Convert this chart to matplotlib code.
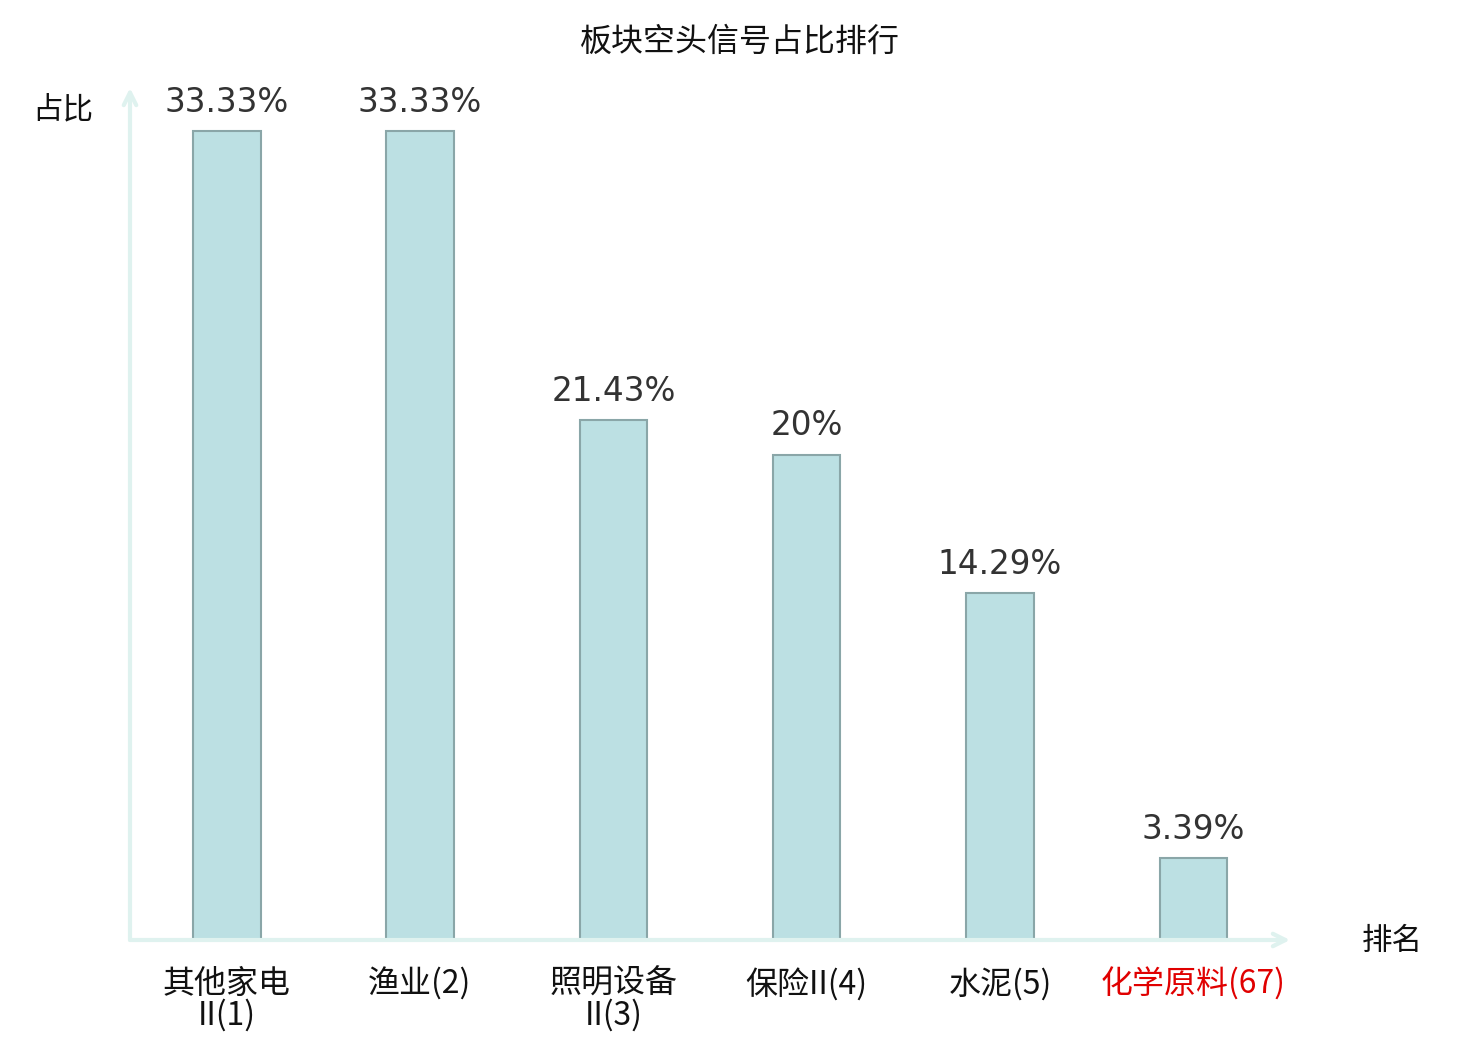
import matplotlib.pyplot as plt

plt.rcParams['font.family'] = ['Noto Sans CJK SC', 'DejaVu Sans']

# data
sectors = ['其他家电\nII(1)', '渔业(2)', '照明设备\nII(3)', '保险II(4)', '水泥(5)', '化学原料(67)']
ratios = [33.33, 33.33, 21.43, 20.0, 14.29, 3.39]
ratio_labels = ['33.33%', '33.33%', '21.43%', '20%', '14.29%', '3.39%']
label_colors = ['#111111'] * 5 + ['#e00000']

fig = plt.figure(figsize=(14.8, 10.4), dpi=100)
# axes spans x 130..1290 px, y 88..940 px
ax = fig.add_axes([130 / 1480, 100 / 1040, 1160 / 1480, 852 / 1040])

x = list(range(len(ratios)))
ax.bar(x, ratios, width=0.35, color='#bce0e3', edgecolor='#8aa6a8', linewidth=1.5, zorder=3)

for i, v in enumerate(ratios):
    ax.text(i, v + 0.5, ratio_labels[i], ha='center', va='bottom',
            fontsize=23.5, color='#333333', family='DejaVu Sans')

ax.set_xlim(-0.5, 5.5)
ax.set_ylim(0, 35.1)

for s in ax.spines.values():
    s.set_visible(False)
ax.set_yticks([])
ax.set_xticks(x)
ax.set_xticklabels(sectors, fontsize=23, linespacing=0.95)
ax.tick_params(axis='x', length=0, pad=20)
for lbl, c in zip(ax.get_xticklabels(), label_colors):
    lbl.set_color(c)
    lbl.set_verticalalignment('top')

axis_color = '#dff2ef'
ax.annotate('', xy=(1.0, 0), xytext=(0, 0), xycoords='axes fraction',
            arrowprops=dict(arrowstyle='->,head_length=0.9,head_width=0.45',
                            color=axis_color, lw=3, shrinkA=0, shrinkB=0))
ax.annotate('', xy=(0, 1.0), xytext=(0, 0), xycoords='axes fraction',
            arrowprops=dict(arrowstyle='->,head_length=0.9,head_width=0.45',
                            color=axis_color, lw=3, shrinkA=0, shrinkB=0))

fig.text(740 / 1480, 1 - 42 / 1040, '板块空头信号占比排行', ha='center', va='center',
         fontsize=23, color='#111111')
fig.text(63 / 1480, 1 - 110 / 1040, '占比', ha='center', va='center',
         fontsize=22, color='#111111')
fig.text(1392 / 1480, 1 - 941 / 1040, '排名', ha='center', va='center',
         fontsize=22, color='#111111')

fig.savefig('out.png', dpi=100)
